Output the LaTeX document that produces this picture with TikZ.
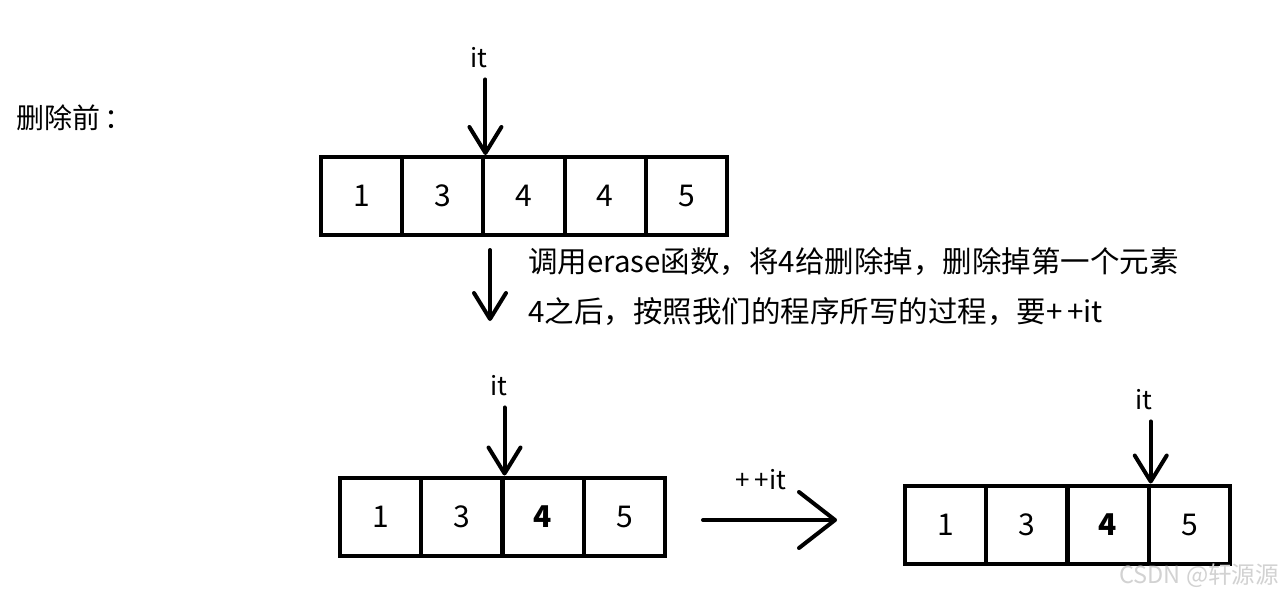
\documentclass[tikz,border=0pt]{standalone}
\usepackage{fontspec}
\setmainfont{Noto Sans CJK SC}
\usetikzlibrary{arrows.meta}
\begin{document}
\begin{tikzpicture}[x=1pt,y=-1pt,
  cell/.style={draw, line width=4pt, minimum width=81.25pt, minimum height=78pt, inner sep=0pt, font=\fontsize{30}{30}\selectfont},
  lbl/.style={inner sep=0pt, font=\fontsize{26}{26}\selectfont},
  ptr/.style={line width=4pt, line cap=round, -{Straight Barb[length=26pt,width=32pt,round]}},
  bigptr/.style={line width=4pt, line cap=round, -{Straight Barb[length=36pt,width=56pt,round]}}]
\useasboundingbox[fill=white] (0,0) rectangle (1281,597);

% title
\node[anchor=west, inner sep=0pt, font=\fontsize{28}{28}\selectfont] (title) at (16,118) {删除前\,：};

% top array
\node[cell] (t1) at (361.6,196) {1};
\node[cell] (t2) at (442.8,196) {3};
\node[cell] (t3) at (524.0,196) {4};
\node[cell] (t4) at (605.2,196) {4};
\node[cell] (t5) at (686.4,196) {5};
\node[lbl] (tit) at (479,58) {it};
\draw[ptr] (tit.south -| t2.north east) ++(0,11) -- (t2.north east);

% middle
\coordinate (d1) at (490,250);
\coordinate (d2) at (490,321);
\draw[ptr] (d1) -- (d2);
\node[anchor=west, align=left, inner sep=0pt, font=\fontsize{29.5}{50}\selectfont] (txt) at (528,287)
  {调用erase函数，将4给删除掉，删除掉第一个元素\\4之后，按照我们的程序所写的过程，要+\,+it};

% bottom-left array
\node[cell] (b1) at (380.6,516.5) {1};
\node[cell] (b2) at (461.9,516.5) {3};
\node[cell] (b3) at (543.1,516.5) {\bfseries 4};
\node[cell] (b4) at (624.4,516.5) {5};
\node[lbl] (bit) at (499,386) {it};
\draw[ptr] (bit.south -| b2.north east) ++(0,11) -- (b2.north east);

% ++it arrow
\coordinate (r1) at (703,520);
\coordinate (r2) at (837,520);
\draw[bigptr] (r1) -- (r2);
\node[lbl] (pit) at (761,480) {+\,+it};

% bottom-right array
\node[cell] (c1) at (945.6,524.5) {1};
\node[cell] (c2) at (1026.9,524.5) {3};
\node[cell] (c3) at (1108.1,524.5) {\bfseries 4};
\node[cell] (c4) at (1189.4,524.5) {5};
\node[lbl] (cit) at (1144,400) {it};
\draw[ptr] (cit.south -| c3.north east) ++(0,11) -- (c3.north east);

% watermark
\node[anchor=east, inner sep=0pt, text=gray!35, font=\fontsize{23.5}{23.5}\selectfont] (wm) at (1279,576) {CSDN @轩源源};
\end{tikzpicture}
\end{document}
